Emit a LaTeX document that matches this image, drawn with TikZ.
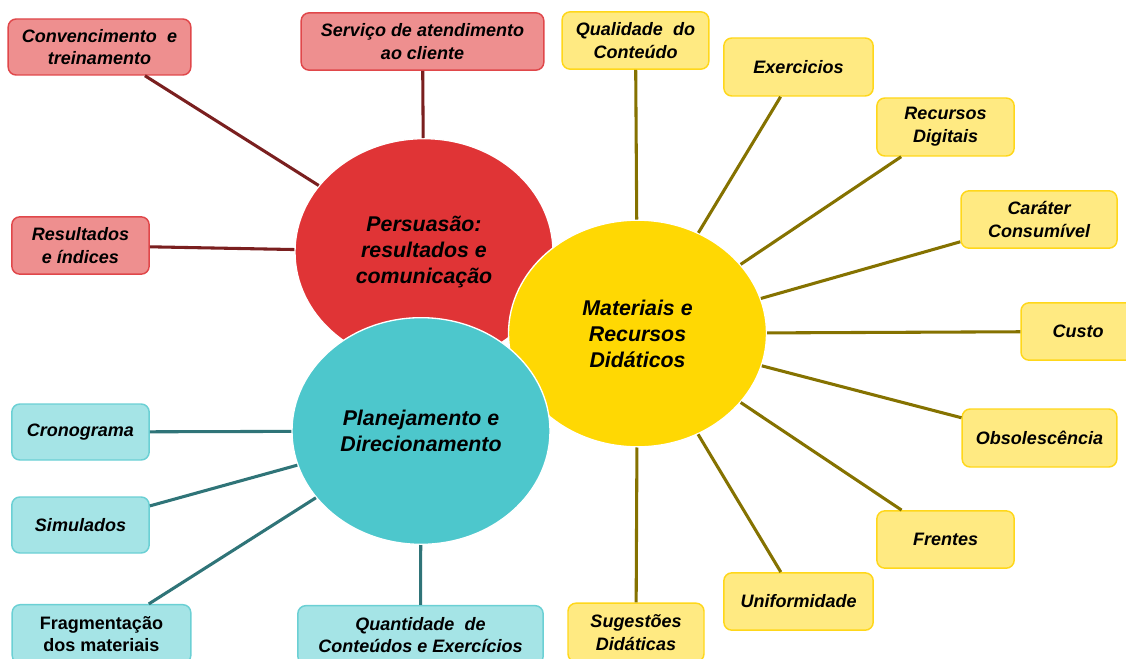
\documentclass[tikz,border=0pt]{standalone}
\usepackage{fontspec}
\setmainfont{Liberation Sans}
\usetikzlibrary{shapes.geometric}

\definecolor{redhub}{HTML}{E03436}
\definecolor{redbox}{HTML}{EE8F8F}
\definecolor{rededge}{HTML}{E0474A}
\definecolor{redline}{HTML}{7A1F1F}
\definecolor{yelhub}{HTML}{FFD803}
\definecolor{yelbox}{HTML}{FFEA82}
\definecolor{yeledge}{HTML}{FFD71A}
\definecolor{yelline}{HTML}{857200}
\definecolor{tealhub}{HTML}{4DC7CC}
\definecolor{tealbox}{HTML}{A5E4E6}
\definecolor{tealedge}{HTML}{6BD0D4}
\definecolor{tealline}{HTML}{2F7478}

\tikzset{
  hub/.style={ellipse, draw=white, line width=1pt, inner sep=0pt, align=center,
    minimum width=193.5pt, minimum height=170pt,
    font=\fontsize{16}{19.5}\selectfont\bfseries\itshape},
  leaf/.style={rounded corners=6pt, line width=1.1pt, inner sep=0pt, align=center,
    font=\fontsize{13.5}{17}\selectfont\bfseries\itshape},
  redleaf/.style={leaf, draw=rededge, fill=redbox},
  yelleaf/.style={leaf, draw=yeledge, fill=yelbox},
  tealleaf/.style={leaf, draw=tealedge, fill=tealbox},
  spoke/.style={line width=2.3pt}
}

\begin{document}
\begin{tikzpicture}[x=0.75pt,y=-0.75pt]
	\useasboundingbox (0,0) rectangle (1126,659);
	\clip (0,0) rectangle (1126,659);

	% the three hubs
	\node[hub, fill=redhub] (pers) at (424,252) {Persuasão:\\resultados e\\comunicação};
	\node[hub, fill=yelhub] (mat) at (637.5,333.5) {Materiais e\\Recursos\\Didáticos};
	\node[hub, fill=tealhub] (plan) at (421,431) {Planejamento e\\Direcionamento};

	% red leaves
	\node[redleaf, minimum width=137pt, minimum height=42pt] (conv) at (99.5,47) {Convencimento\hspace{0.3em} e\\treinamento};
	\node[redleaf, minimum width=182pt, minimum height=43pt] (serv) at (422.5,41.5) {Serviço de atendimento\\ao cliente};
	\node[redleaf, minimum width=103pt, minimum height=43pt] (resu) at (80.5,245.5) {Resultados\\e índices};

	% yellow leaves
	\node[yelleaf, minimum width=110pt, minimum height=43pt] (qual) at (635.5,40.5) {Qualidade\hspace{0.3em} do\\Conteúdo};
	\node[yelleaf, minimum width=112pt, minimum height=43.5pt] (exer) at (798.5,67) {Exercicios};
	\node[yelleaf, minimum width=103pt, minimum height=43.5pt] (recu) at (945.5,127) {Recursos\\Digitais};
	\node[yelleaf, minimum width=117pt, minimum height=43pt] (cara) at (1039,219.5) {Caráter\\Consumível};
	\node[yelleaf, minimum width=85.5pt, minimum height=43pt] (cust) at (1078,331.5) {Custo};
	\node[yelleaf, minimum width=116pt, minimum height=43.5pt] (obso) at (1039.5,438) {Obsolescência};
	\node[yelleaf, minimum width=103pt, minimum height=43pt] (fren) at (945.5,539.5) {Frentes};
	\node[yelleaf, minimum width=112pt, minimum height=43pt] (unif) at (798.5,601.5) {Uniformidade};
	\node[yelleaf, minimum width=102pt, minimum height=44pt] (suge) at (636,632.5) {Sugestões\\Didáticas};

	% teal leaves
	\node[tealleaf, minimum width=103pt, minimum height=42pt] (cron) at (80.5,432) {Cronograma};
	\node[tealleaf, minimum width=103pt, minimum height=42pt] (simu) at (80.5,525) {Simulados};
	\node[tealleaf, minimum width=134pt, minimum height=44pt, font=\fontsize{13.5}{17}\selectfont\bfseries] (frag) at (101.5,634) {Fragmentação\\dos materiais};
	\node[tealleaf, minimum width=184pt, minimum height=44pt] (quan) at (420.5,635) {Quantidade\hspace{0.3em} de\\Conteúdos e Exercícios};

	% spokes
	\draw[spoke, redline] (pers) -- (conv);
	\draw[spoke, redline] (pers) -- (serv);
	\draw[spoke, redline] (pers) -- (resu);

	\foreach \leaf in {qual,exer,recu,cara,cust,obso,fren,unif,suge}
		\draw[spoke, yelline] (mat) -- (\leaf);

	\draw[spoke, tealline] (plan) -- (cron);
	\draw[spoke, tealline] (plan) -- (simu);
	\draw[spoke, tealline] (plan) -- (frag);
	\draw[spoke, tealline] (plan) -- (quan);
\end{tikzpicture}
\end{document}
